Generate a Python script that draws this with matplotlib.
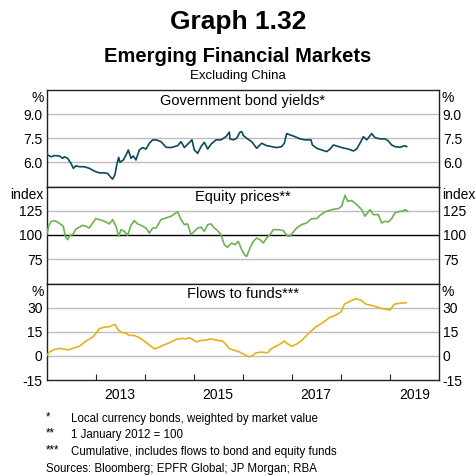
import matplotlib
matplotlib.use("Agg")
import matplotlib.pyplot as plt
import numpy as np

plt.rcParams['font.family'] = ['Liberation Sans', 'DejaVu Sans']

# ---- data (decimal years) ----
bond_t = [2012.0, 2012.020, 2012.088, 2012.156, 2012.258, 2012.326, 2012.360, 2012.428, 2012.496,
          2012.544, 2012.598, 2012.666, 2012.768, 2012.870, 2012.972, 2013.074, 2013.176, 2013.244,
          2013.312, 2013.346, 2013.394, 2013.428, 2013.469, 2013.496, 2013.564, 2013.619, 2013.666,
          2013.720, 2013.768, 2013.822, 2013.890, 2013.959, 2014.027, 2014.095, 2014.163, 2014.231,
          2014.333, 2014.435, 2014.537, 2014.605, 2014.673, 2014.741, 2014.809, 2014.877, 2014.965,
          2015.013, 2015.081, 2015.149, 2015.217, 2015.285, 2015.353, 2015.455, 2015.557, 2015.659,
          2015.727, 2015.741, 2015.809, 2015.877, 2015.945, 2015.979, 2016.013, 2016.081, 2016.183,
          2016.285, 2016.319, 2016.387, 2016.489, 2016.591, 2016.693, 2016.795, 2016.850, 2016.897,
          2016.965, 2017.067, 2017.169, 2017.271, 2017.394, 2017.421, 2017.510, 2017.612, 2017.714,
          2017.782, 2017.850, 2017.918, 2018.020, 2018.156, 2018.258, 2018.326, 2018.394, 2018.462,
          2018.530, 2018.632, 2018.700, 2018.802, 2018.904, 2018.972, 2019.040, 2019.108, 2019.210,
          2019.312, 2019.346]
bond_val = [6.71, 6.46, 6.35, 6.42, 6.40, 6.25, 6.35, 6.25, 5.94,
            5.63, 5.79, 5.73, 5.73, 5.63, 5.46, 5.35, 5.35, 5.31,
            5.06, 4.96, 5.25, 5.83, 6.31, 6.00, 6.15, 6.46, 6.77,
            6.25, 6.40, 6.15, 6.77, 6.92, 6.83, 7.19, 7.40, 7.40,
            7.29, 6.94, 6.92, 6.98, 7.04, 7.29, 6.92, 7.13, 7.40,
            6.77, 6.56, 6.98, 7.25, 6.83, 7.13, 7.40, 7.40, 7.60,
            7.88, 7.46, 7.40, 7.50, 7.88, 7.92, 7.67, 7.50, 7.29,
            6.88, 6.98, 7.19, 7.04, 6.98, 6.92, 6.98, 7.19, 7.79,
            7.71, 7.60, 7.46, 7.40, 7.40, 7.08, 6.88, 6.77, 6.67,
            6.83, 7.08, 7.02, 6.92, 6.83, 6.71, 6.83, 7.19, 7.60,
            7.40, 7.79, 7.54, 7.46, 7.46, 7.33, 7.08, 6.98, 6.94,
            7.04, 6.98]

eq_t = [2012.0, 2012.040, 2012.088, 2012.156, 2012.224, 2012.292, 2012.339, 2012.380, 2012.428,
        2012.476, 2012.530, 2012.598, 2012.666, 2012.734, 2012.802, 2012.870, 2012.938, 2013.006,
        2013.074, 2013.142, 2013.210, 2013.278, 2013.346, 2013.414, 2013.469, 2013.516, 2013.584,
        2013.652, 2013.720, 2013.788, 2013.856, 2013.925, 2014.027, 2014.095, 2014.163, 2014.231,
        2014.333, 2014.435, 2014.537, 2014.639, 2014.673, 2014.741, 2014.809, 2014.877, 2014.945,
        2015.013, 2015.081, 2015.149, 2015.217, 2015.285, 2015.353, 2015.421, 2015.489, 2015.557,
        2015.625, 2015.693, 2015.707, 2015.775, 2015.843, 2015.911, 2015.979, 2016.047, 2016.081,
        2016.149, 2016.217, 2016.285, 2016.353, 2016.421, 2016.489, 2016.557, 2016.625, 2016.727,
        2016.829, 2016.897, 2016.965, 2017.033, 2017.101, 2017.203, 2017.305, 2017.408, 2017.510,
        2017.578, 2017.680, 2017.816, 2017.952, 2018.020, 2018.088, 2018.142, 2018.224, 2018.326,
        2018.428, 2018.496, 2018.598, 2018.666, 2018.768, 2018.836, 2018.904, 2018.972, 2019.040,
        2019.108, 2019.210, 2019.278, 2019.312, 2019.366]
eq_val = [100.3, 109.0, 114.0, 114.8, 113.4, 110.7, 109.0, 98.6, 95.2,
          99.7, 100.3, 106.2, 108.0, 110.0, 109.0, 107.2, 112.4, 116.9,
          115.9, 114.8, 113.4, 111.4, 115.9, 109.0, 98.6, 105.5, 103.8,
          99.7, 110.0, 114.8, 111.4, 110.0, 107.2, 102.0, 107.2, 107.2,
          115.9, 117.6, 119.3, 122.8, 123.8, 115.9, 110.7, 111.4, 100.3,
          103.8, 107.2, 108.0, 103.8, 110.7, 111.4, 107.2, 104.5, 100.3,
          90.0, 87.2, 88.3, 91.7, 90.0, 93.4, 84.8, 79.0, 77.9,
          86.6, 93.4, 96.9, 95.2, 91.7, 96.9, 100.3, 105.5, 105.5,
          104.5, 99.7, 98.6, 103.1, 107.2, 110.7, 112.4, 116.9, 116.9,
          120.3, 123.8, 126.2, 127.2, 129.7, 141.0, 134.8, 135.5, 131.4,
          126.2, 119.3, 126.2, 121.0, 121.0, 112.4, 114.1, 113.4, 116.9,
          122.8, 124.5, 124.5, 126.2, 124.5]

fl_t = [2012.0, 2012.054, 2012.156, 2012.258, 2012.326, 2012.428, 2012.530, 2012.666, 2012.802,
        2012.938, 2013.006, 2013.074, 2013.176, 2013.278, 2013.346, 2013.394, 2013.448, 2013.516,
        2013.619, 2013.686, 2013.788, 2013.890, 2013.993, 2014.095, 2014.197, 2014.265, 2014.367,
        2014.503, 2014.639, 2014.741, 2014.843, 2014.911, 2014.979, 2015.047, 2015.149, 2015.251,
        2015.353, 2015.455, 2015.591, 2015.659, 2015.727, 2015.829, 2015.931, 2016.033, 2016.135,
        2016.203, 2016.272, 2016.374, 2016.510, 2016.578, 2016.680, 2016.782, 2016.850, 2016.918,
        2017.006, 2017.088, 2017.190, 2017.292, 2017.394, 2017.496, 2017.632, 2017.768, 2017.904,
        2018.006, 2018.074, 2018.176, 2018.312, 2018.414, 2018.516, 2018.618, 2018.720, 2018.822,
        2018.924, 2019.006, 2019.095, 2019.197, 2019.333]
fl_val = [0.2, 2.3, 4.0, 4.6, 4.4, 3.75, 4.6, 6.0, 9.2,
          11.7, 14.0, 16.9, 17.9, 18.1, 19.0, 19.6, 16.5, 14.8,
          14.0, 12.7, 12.7, 11.25, 9.2, 6.7, 4.4, 5.0, 6.5,
          8.1, 10.2, 10.8, 10.6, 11.25, 10.2, 8.75, 9.6, 9.8,
          10.6, 9.8, 9.2, 7.1, 4.4, 3.5, 2.5, 0.8, -0.6,
          0.2, 1.9, 2.3, 1.9, 4.4, 6.0, 7.7, 9.2, 7.5,
          6.0, 7.1, 9.2, 12.3, 15.4, 18.1, 20.6, 23.75, 25.4,
          27.3, 32.1, 33.75, 35.6, 34.6, 32.1, 31.5, 30.6, 29.6,
          29.0, 28.5, 32.1, 32.7, 33.1]

year_labels = ['2013', '2015', '2017', '2019']
panel_titles = ['Government bond yields*', 'Equity prices**', 'Flows to funds***']
units = ['%', 'index', '%']

W = H = 476
fig = plt.figure(figsize=(W / 100, H / 100), dpi=100)

left = 46.7 / W
width = (438.7 - 46.7) / W
tops = [90, 186.5, 283.5]
bots = [186.5, 283.5, 380]

panels = [
    (bond_t, bond_val, '#0b4a5a', (4.5, 10.5), [6.0, 7.5, 9.0], ['6.0', '7.5', '9.0'], None),
    (eq_t, eq_val, '#6db352', (50, 150), [75, 100, 125], ['75', '100', '125'], 100),
    (fl_t, fl_val, '#e3b21c', (-15, 45), [-15, 0, 15, 30], ['-15', '0', '15', '30'], None),
]

for i, (x, y, col, ylim, yt, ytl, black) in enumerate(panels):
    ax = fig.add_axes([left, 1 - bots[i] / H, width, (bots[i] - tops[i]) / H])
    ax.set_xlim(2012, 2020)
    ax.set_ylim(*ylim)
    for v in yt:
        if v == ylim[0]:
            continue
        ax.axhline(v, color='black' if v == black else '#bdbdbd', lw=1.0, zorder=1)
    ax.plot(x, y, color=col, lw=1.2, zorder=3)
    ax.set_yticks(yt)
    ax.set_yticklabels(ytl)
    ax.tick_params(axis='y', length=0, labelsize=10, pad=3, left=True, right=True,
                   labelleft=True, labelright=True)
    for s in ax.spines.values():
        s.set_color('#222222')
        s.set_linewidth(1.0)
    ax.text(0.5, 0.96, panel_titles[i], transform=ax.transAxes, ha='center', va='top', fontsize=10.5)
    ax.text(-0.008, 0.985, units[i], transform=ax.transAxes, ha='right', va='top', fontsize=10)
    ax.text(1.008, 0.985, units[i], transform=ax.transAxes, ha='left', va='top', fontsize=10)
    if i < 2:
        ax.set_xticks([])
    else:
        ax.set_xticks(np.arange(2013, 2020))
        ax.set_xticklabels([])
        ax.tick_params(axis='x', direction='in', length=4, width=0.8, color='#222222')
        ax.set_xticks([2013.5, 2015.5, 2017.5, 2019.5], minor=True)
        ax.set_xticklabels(year_labels, minor=True, fontsize=10)
        ax.tick_params(axis='x', which='minor', length=0, pad=6)

fig.text(0.5, 1 - 22 / H, 'Graph 1.32', ha='center', va='center', fontsize=19, fontweight='bold')
fig.text(0.5, 1 - 57 / H, 'Emerging Financial Markets', ha='center', va='center', fontsize=14.5,
         fontweight='bold')
fig.text(0.5, 1 - 76 / H, 'Excluding China', ha='center', va='center', fontsize=9.5)

notes = [('*', 'Local currency bonds, weighted by market value', 419),
         ('**', '1 January 2012 = 100', 435),
         ('***', 'Cumulative, includes flows to bond and equity funds', 452)]
for star, txt, yy in notes:
    fig.text(46 / W, 1 - (yy - 2) / H, star, ha='left', va='center', fontsize=8.3)
    fig.text(71 / W, 1 - yy / H, txt, ha='left', va='center', fontsize=8.3)
fig.text(45.5 / W, 1 - 469 / H, 'Sources: Bloomberg; EPFR Global; JP Morgan; RBA', ha='left',
         va='center', fontsize=8.3)

fig.savefig('out.png', dpi=100)
